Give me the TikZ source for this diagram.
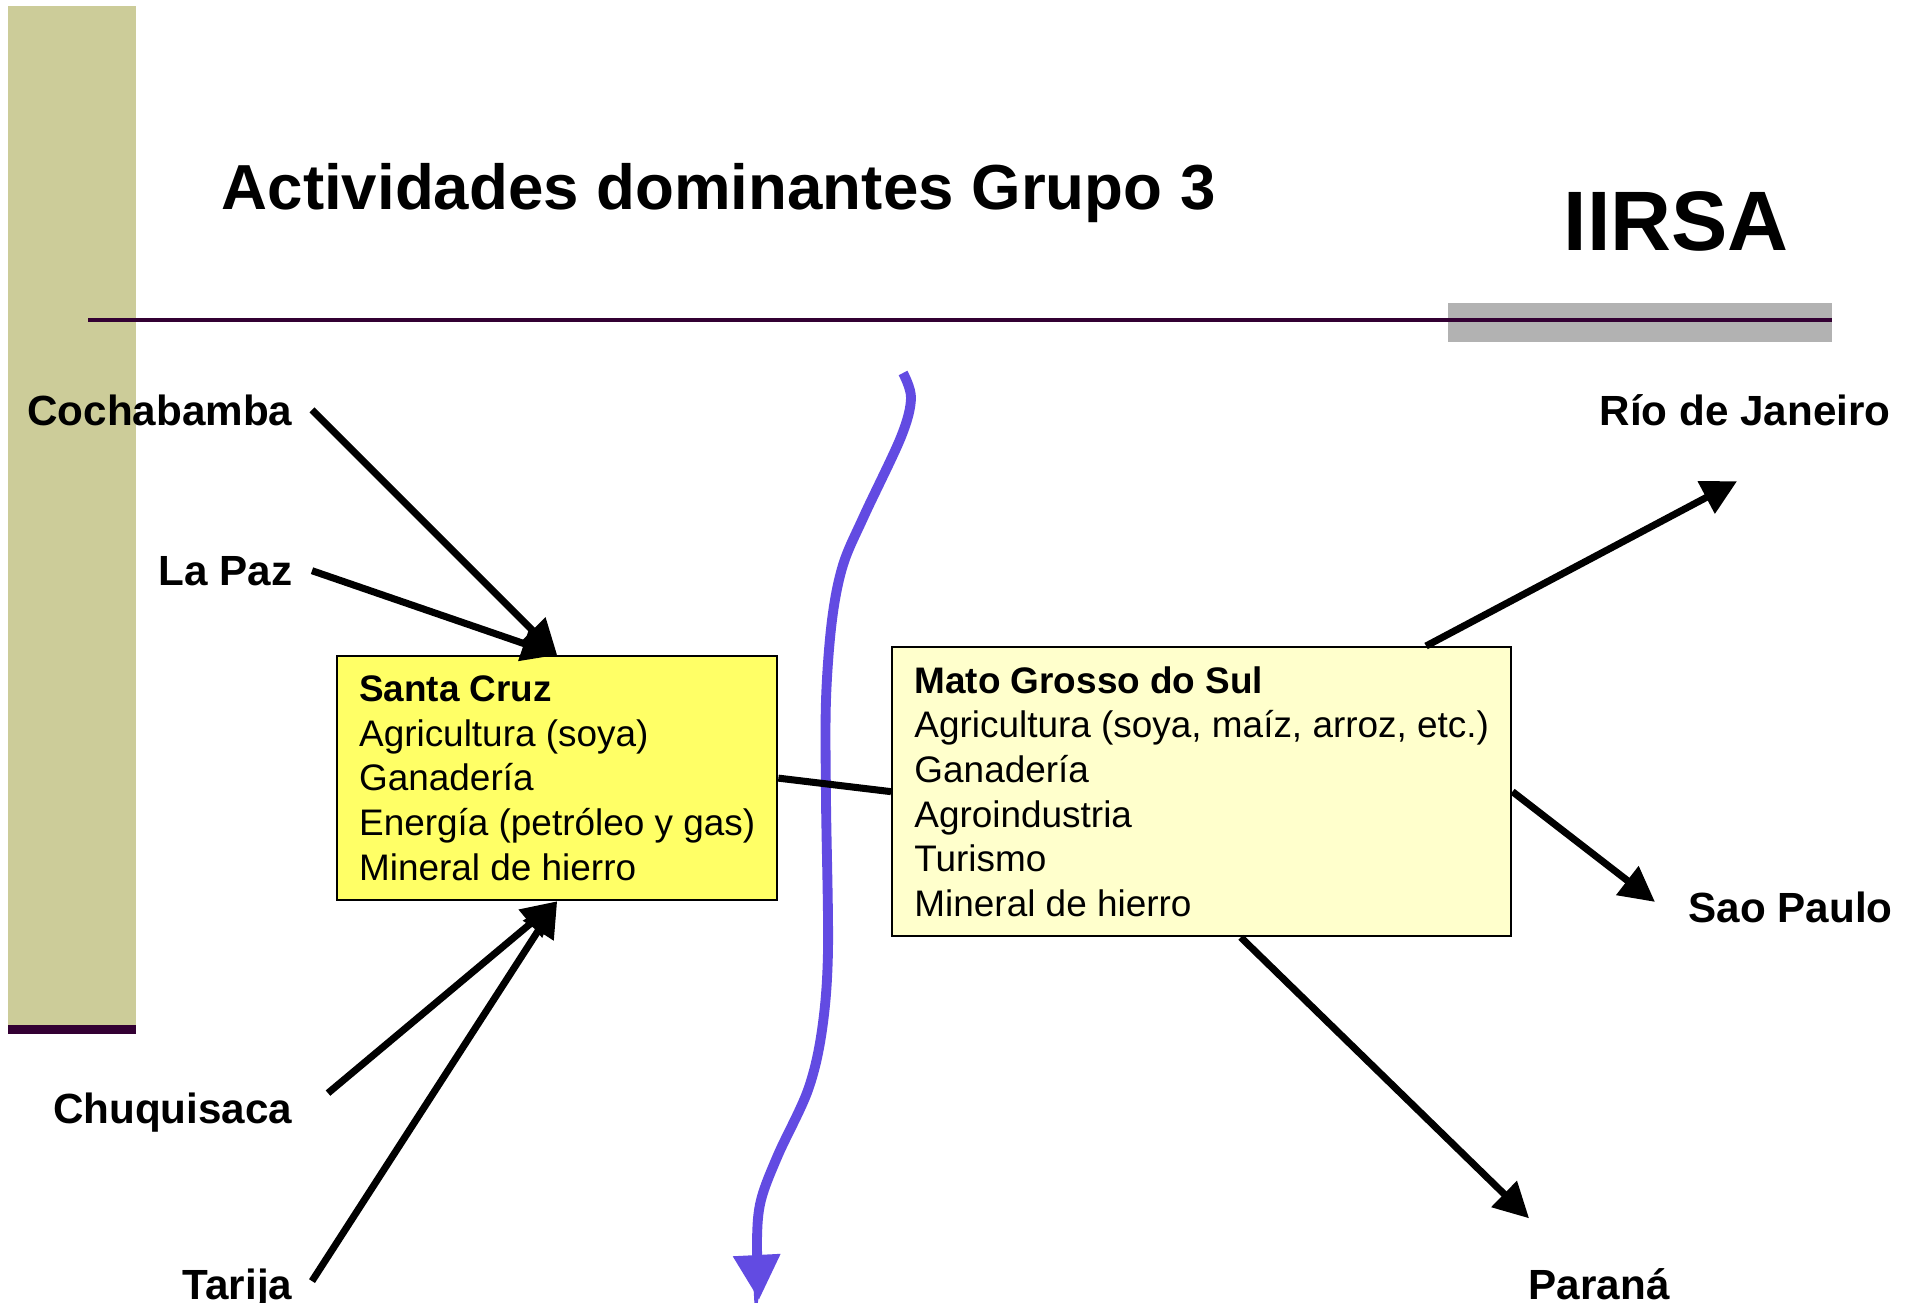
\documentclass[tikz,border=0pt]{standalone}
\usepackage{fontspec}
\setmainfont{Liberation Sans}
\usetikzlibrary{arrows.meta}

\definecolor{barkhaki}{RGB}{204,204,153}
\definecolor{rulepurple}{RGB}{51,0,51}
\definecolor{rulegray}{RGB}{178,178,178}
\definecolor{boxyellow}{RGB}{255,255,102}
\definecolor{boxcream}{RGB}{255,255,204}
\definecolor{riverblue}{RGB}{98,75,226}

\begin{document}
\begin{tikzpicture}[x=0.01cm, y=-0.01cm,
	place/.style={font=\fontsize{12}{14}\selectfont\bfseries, inner sep=0.19cm},
	region/.style={draw, line width=0.6pt, align=left, anchor=north west, inner xsep=0.21cm, font=\fontsize{10.5}{12.7}\selectfont},
	link/.style={line width=2pt, -{Triangle[length=3.5mm,width=3.5mm]}},
	river/.style={line width=2.8pt, riverblue, -{Triangle[length=4.5mm,width=4.5mm]}}]
	\useasboundingbox (0,0) rectangle (1912,1303);
	% Slide frame
	\fill[barkhaki] (8,6) rectangle (136,1025);
	\fill[rulepurple] (8,1025) rectangle (136,1034);
	\fill[rulegray] (1448,303) rectangle (1832,342);
	\draw[rulepurple, line width=1pt] (88,320) -- (1832,320);
	\node[anchor=base west, inner sep=0pt, font=\fontsize{18.1}{22}\selectfont\bfseries] (title) at (221,209) {Actividades dominantes Grupo 3};
	\node[anchor=base west, inner sep=0pt, font=\fontsize{24}{28}\selectfont\bfseries] (iirsa) at (1563,250) {IIRSA};
	% Boxes
	\node[region, fill=boxyellow, minimum width=4.40cm, minimum height=2.44cm] (sc) at (336,655)
	{\textbf{Santa Cruz}\\Agricultura (soya)\\Ganadería\\Energía (petróleo y gas)\\Mineral de hierro};
	\node[region, fill=boxcream, minimum width=6.19cm, minimum height=2.89cm] (mg) at (891,646)
	{\textbf{Mato Grosso do Sul}\\Agricultura (soya, maíz, arroz, etc.)\\Ganadería\\Agroindustria\\Turismo\\Mineral de hierro};
	% Places
	\node[place, anchor=base east] (coch) at (312,425) {Cochabamba};
	\node[place, anchor=base east] (lapaz) at (312,585) {La Paz};
	\node[place, anchor=base east] (chuq) at (312,1123) {Chuquisaca};
	\node[place, anchor=base east] (tarija) at (312,1299) {Tarija};
	\node[place, anchor=base west] (rio) at (1580,425) {Río de Janeiro};
	\node[place, anchor=base west] (sao) at (1669,922) {Sao Paulo};
	\node[place, anchor=base west] (parana) at (1509,1299) {Paraná};
	% River
	\draw[river] plot[smooth, tension=0.55] coordinates {(903,373) (911,398) (901,437) (864,516) (843,565) (832,620) (826,700) (826,800) (828,950) (822,1030) (808,1090) (778,1155) (761,1200) (757,1240) (759,1300)};
	% Links
	\draw[line width=2pt] (sc.east) -- (mg.west);
	\draw[link] (coch.east) -- (sc.north);
	\draw[link] (lapaz.east) -- (sc.north);
	\draw[link] ([shift={(16,-19)}]chuq.east) -- (sc.south);
	\draw[link] ([shift={(0,-7)}]tarija.east) -- (sc.south);
	\draw[link] (mg.33) -- ([shift={(-8,36)}]rio.south);
	\draw[link] (mg.east) -- ([shift={(-14,-5)}]sao.west);
	\draw[link] (mg.285) -- ([shift={(-70,-30)}]parana.north);
\end{tikzpicture}
\end{document}
